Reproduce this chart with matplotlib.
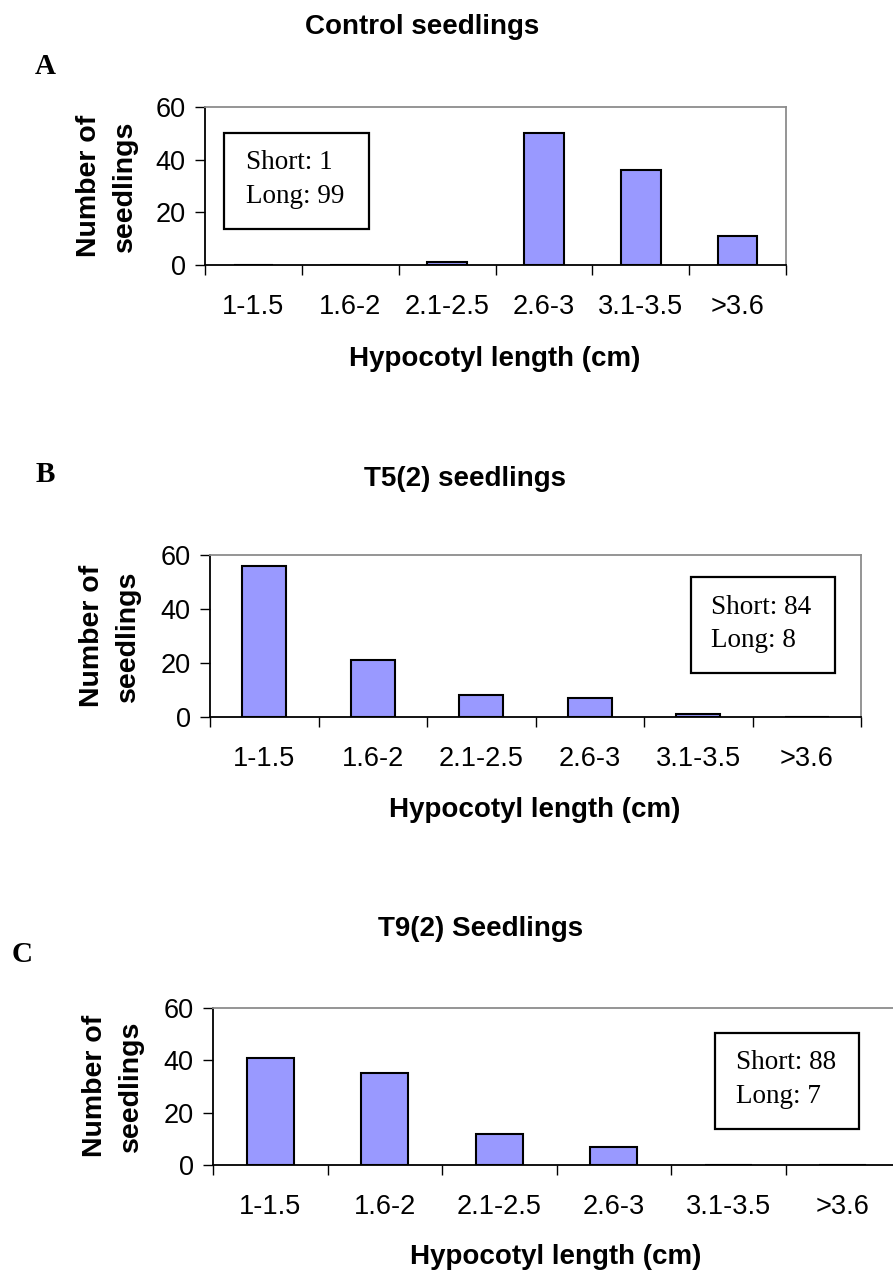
import numpy as np
import matplotlib
matplotlib.use('Agg')
import matplotlib.pyplot as plt
from matplotlib.patches import Rectangle

# ── data ─────────────────────────────────────────────────────────────
categories = ['1-1.5', '1.6-2', '2.1-2.5', '2.6-3', '3.1-3.5', '>3.6']
control_counts = [0, 0, 1, 50, 36, 11]
t5_counts = [56, 21, 8, 7, 1, 0]
t9_counts = [41, 35, 12, 7, 0, 0]
titles = ['Control seedlings', 'T5(2) seedlings', 'T9(2) Seedlings']
panel_letters = ['A', 'B', 'C']
box_texts = ['Short: 1\nLong: 99', 'Short: 84\nLong: 8', 'Short: 88\nLong: 7']
yticks = [0, 20, 40, 60]

# ── styling ──────────────────────────────────────────────────────────
BAR_COL = '#9999FF'
GREY = '#8C8C8C'
SANS = 'Liberation Sans'
SERIF = 'Liberation Serif'
W, H = 893, 1274

fig = plt.figure(figsize=(W / 100, H / 100), dpi=100)
fig.patch.set_facecolor('white')


def px_axes(x0, y_top, x1, y_bot):
    return fig.add_axes([x0 / W, 1 - y_bot / H, (x1 - x0) / W, (y_bot - y_top) / H])


# pixel layouts: axes box, title pos, letter pos, ylabel pos, xlabel pos, text box
layouts = [
    dict(ax=(205, 107, 786, 265), title=(422, 27), letter=(45, 66),
         ylab=(107, 186), xlab=(495, 359), box=(0.033, 0.228, 0.282, 0.835), tx=0.071, ty=0.540),
    dict(ax=(210, 555, 861, 717), title=(465, 479), letter=(45, 474),
         ylab=(110, 636), xlab=(535, 810), box=(0.739, 0.272, 0.960, 0.864), tx=0.770, ty=0.575),
    dict(ax=(213, 1008, 900, 1165), title=(481, 929), letter=(22, 955),
         ylab=(113, 1086), xlab=(556, 1257), box=(0.731, 0.229, 0.940, 0.841), tx=0.761, ty=0.545),
]
series = [control_counts, t5_counts, t9_counts]

for i, (lay, counts) in enumerate(zip(layouts, series)):
    ax = px_axes(*lay['ax'])
    x = np.arange(len(categories))
    ax.bar(x, counts, width=0.41, color=BAR_COL, edgecolor='black', linewidth=1.5, zorder=3)
    ax.set_xlim(-0.5, len(categories) - 0.5)
    ax.set_ylim(0, 60)

    # Excel-style: ticks between categories, labels at centres
    ax.set_xticks(np.arange(-0.5, len(categories), 1))
    ax.set_xticklabels([])
    ax.set_xticks(x, minor=True)
    ax.set_xticklabels(categories, minor=True, fontsize=19.5, family=SANS)
    ax.tick_params(axis='x', which='major', direction='out', length=7, width=1)
    ax.tick_params(axis='x', which='minor', length=0, pad=21)
    ax.set_yticks(yticks)
    ax.set_yticklabels([str(v) for v in yticks], fontsize=19.5, family=SANS)
    ax.tick_params(axis='y', direction='out', length=7, width=1, pad=7)

    for s in ['top', 'right']:
        ax.spines[s].set_color(GREY)
        ax.spines[s].set_linewidth(1.3)
    for s in ['left', 'bottom']:
        ax.spines[s].set_color('black')
        ax.spines[s].set_linewidth(1.3)

    # annotation box
    bx0, by0, bx1, by1 = lay['box']
    ax.add_patch(Rectangle((bx0, by0), bx1 - bx0, by1 - by0, transform=ax.transAxes,
                           facecolor='white', edgecolor='black', linewidth=1.6, zorder=4))
    ax.text(lay['tx'], lay['ty'], box_texts[i], transform=ax.transAxes, ha='left', va='center',
            fontsize=19.5, family=SERIF, linespacing=1.45, zorder=5)

    tx, ty = lay['title']
    fig.text(tx / W, 1 - ty / H, titles[i], ha='center', va='center',
             fontsize=20, fontweight='bold', family=SANS)
    lx, ly = lay['letter']
    fig.text(lx / W, 1 - ly / H, panel_letters[i], ha='center', va='center',
             fontsize=21, fontweight='bold', family=SERIF)
    yx, yy = lay['ylab']
    fig.text(yx / W, 1 - yy / H, 'Number of\nseedlings', ha='center', va='center', rotation=90,
             fontsize=20.5, fontweight='bold', family=SANS, linespacing=1.5, multialignment='center')
    xx, xy = lay['xlab']
    fig.text(xx / W, 1 - xy / H, 'Hypocotyl length (cm)', ha='center', va='center',
             fontsize=20, fontweight='bold', family=SANS)

fig.savefig('out.png', dpi=100, facecolor='white')
